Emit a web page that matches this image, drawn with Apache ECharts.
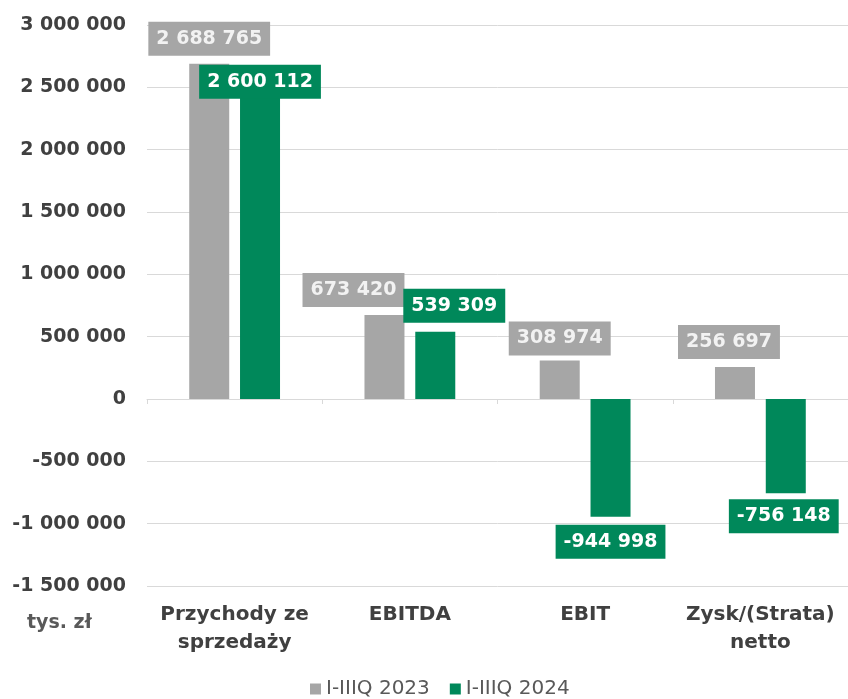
<!DOCTYPE html>
<html>
<head>
<meta charset="utf-8">
<script src="https://cdn.jsdelivr.net/npm/echarts@6/dist/echarts.min.js"></script>
<style>
  html, body { margin: 0; padding: 0; background: #fff; }
  #chart { width: 848px; height: 699px; }
</style>
</head>
<body>
<div id="chart"></div>
<script>
// dane (tys. zł)
var categories = ['Przychody ze\nsprzedaży', 'EBITDA', 'EBIT', 'Zysk/(Strata)\nnetto'];
var seriesNames = ['I-IIIQ 2023', 'I-IIIQ 2024'];
var values2023 = [2688765, 673420, 308974, 256697];
var values2024 = [2600112, 539309, -944998, -756148];
var yTicks = { min: -1500000, max: 3000000, step: 500000 };

var FONT = 'DejaVu Sans';
var GRAY = '#a6a6a6';
var GREEN = '#00885a';

function fmt(v) {
    var s = String(Math.abs(v)).replace(/\B(?=(\d{3})+(?!\d))/g, ' ');
    return (v < 0 ? '-' : '') + s;
}

// przesuniecia etykiet jak na oryginale
var offs2023 = [[0, 0], [-31, 0], [0, 3], [-6, 0]];
var offs2024 = [[0, 32], [19, -1], [0, 0], [-2, -2]];

function buildData(vals, offs) {
    var out = [];
    for (var i = 0; i < vals.length; i++) {
        out.push({
            value: vals[i],
            label: {
                position: vals[i] < 0 ? 'bottom' : 'top',
                offset: offs[i]
            }
        });
    }
    return out;
}

function labelStyle(bg, color) {
    return {
        show: true,
        distance: 8,
        formatter: function (p) { return fmt(p.value); },
        backgroundColor: bg,
        color: color,
        fontFamily: FONT,
        fontWeight: 'bold',
        fontSize: 19,
        lineHeight: 20,
        padding: [7, 8, 7, 8]
    };
}

var dom = document.getElementById('chart');
var myChart = echarts.init(dom);
var option = {
    animation: false,
    backgroundColor: '#fff',
    grid: { left: 147, right: -6, top: 25, bottom: 113 },
    legend: {
        data: seriesNames,
        left: 305,
        top: 674,
        icon: 'rect',
        itemWidth: 11,
        itemHeight: 11,
        itemGap: 20,
        textStyle: { fontFamily: FONT, fontSize: 20, color: '#595959' }
    },
    graphic: [{
        type: 'text',
        left: 27,
        top: 614,
        style: { text: 'tys. zł', font: 'bold 19px "DejaVu Sans"', fill: '#595959' }
    }],
    xAxis: [{
        type: 'category',
        data: categories,
        axisLine: { onZero: true, lineStyle: { color: '#d9d9d9', width: 1 } },
        axisTick: { show: true, length: 5, lineStyle: { color: '#d9d9d9' } },
        axisLabel: { show: false }
    }, {
        type: 'category',
        data: categories,
        position: 'bottom',
        axisLine: { show: false, onZero: false },
        axisTick: { show: false },
        axisLabel: {
            interval: 0,
            margin: 15,
            fontFamily: FONT,
            fontWeight: 'bold',
            fontSize: 20,
            lineHeight: 28,
            color: '#404040'
        }
    }],
    yAxis: {
        type: 'value',
        min: yTicks.min,
        max: yTicks.max,
        interval: yTicks.step,
        axisLine: { show: false },
        axisTick: { show: false },
        splitLine: { lineStyle: { color: '#d9d9d9', width: 1 } },
        axisLabel: {
            margin: 21,
            fontFamily: FONT,
            fontWeight: 'bold',
            fontSize: 19,
            color: '#404040',
            formatter: function (v) { return fmt(v); }
        }
    },
    series: [{
        name: seriesNames[0],
        type: 'bar',
        xAxisIndex: 0,
        barWidth: 40,
        barGap: '27%',
        itemStyle: { color: GRAY },
        label: labelStyle(GRAY, '#f2f2f2'),
        data: buildData(values2023, offs2023)
    }, {
        name: seriesNames[1],
        type: 'bar',
        xAxisIndex: 0,
        barWidth: 40,
        barGap: '27%',
        itemStyle: { color: GREEN },
        label: labelStyle(GREEN, '#ffffff'),
        data: buildData(values2024, offs2024)
    }]
};
myChart.setOption(option, true);
</script>
</body>
</html>
